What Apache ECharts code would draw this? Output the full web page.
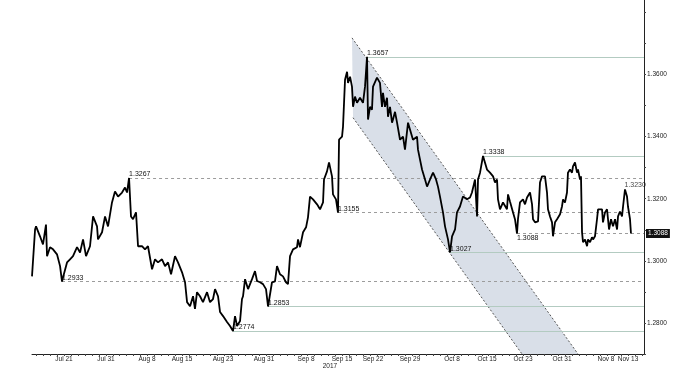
<!DOCTYPE html>
<html><head><meta charset="utf-8">
<script src="https://cdn.jsdelivr.net/npm/echarts@6/dist/echarts.min.js"></script>
<style>html,body{margin:0;padding:0;background:#fff}#c{width:680px;height:370px}</style>
</head><body><div id="c"></div>
<script>
// x unit = trading-day index (Jul 14 2017 = 0)
const priceDay = [
0.40,0.84,0.98,1.55,1.98,2.41,2.56,2.99,3.42,3.99,4.43,4.71,4.86,5.43,5.86,6.29,6.87,7.30,7.73,8.16,8.73,9.17,9.74,9.88,10.46,10.89,11.32,11.89,12.32,12.76,13.33,13.76,14.05,14.34,14.62,14.91,15.34,15.63,16.20,16.63,17.06,17.64,18.07,18.50,19.07,19.51,19.94,20.37,20.94,21.37,21.95,
22.38,22.67,23.10,23.53,23.81,24.10,24.53,24.96,25.54,25.97,26.40,26.69,27.12,27.41,27.84,28.41,28.84,29.27,29.56,29.85,30.28,30.56,30.71,31.00,31.43,32.00,32.43,32.72,33.15,33.58,34.01,34.30,34.87,35.30,35.59,36.02,36.45,36.88,37.17,37.46,37.89,38.46,38.61,38.89,39.33,39.76,40.04,40.33,40.76,41.34,41.77,42.20,42.34,42.77,43.06,43.49,43.63,44.06,44.35,
44.50,44.93,45.07,45.36,45.65,45.79,46.08,46.36,46.51,46.79,47.08,47.51,47.94,48.23,48.52,48.66,48.95,49.23,49.38,49.95,50.38,50.67,50.81,51.10,51.39,51.53,51.82,52.11,52.25,52.54,52.83,53.26,53.69,53.97,54.41,54.69,55.12,55.70,55.84,56.13,56.42,56.56,56.85,57.14,57.57,58.00,58.43,58.71,59.00,59.43,59.72,60.15,60.44,
60.73,61.16,61.44,61.87,62.30,62.88,63.31,63.59,64.03,64.32,64.46,64.75,65.18,65.75,66.18,66.62,66.90,67.19,67.33,67.62,68.05,68.62,68.77,69.05,69.49,69.77,70.06,70.20,70.49,70.92,71.21,71.50,71.93,72.22,72.36,72.65,73.08,73.36,73.65,74.08,74.37,74.51,74.80,75.09,75.23,75.52,75.81,76.24,76.52,76.67,76.95,77.24,77.38,77.67,77.96,78.10,78.39,78.68,78.82,79.11,79.25,79.40,79.54,79.83,80.12,80.26,80.55,80.83,80.98,81.26,81.55,81.70,81.98,82.27,82.41,82.70,82.99,83.28,83.56,83.85,84.14,84.43,84.57,84.85,85.14,85.29,85.57,85.86,86.00,86.29,86.43
];
const priceValue = [
1.2950,1.3101,1.3111,1.3079,1.3053,1.3117,1.3015,1.3044,1.3037,1.3021,1.2983,1.2933,1.2947,1.2995,1.3005,1.3015,1.3044,1.3027,1.3069,1.3015,1.3047,1.3143,1.3111,1.3069,1.3092,1.3143,1.3111,1.3188,1.3223,1.3207,1.3220,1.3236,1.3220,1.3267,1.3143,1.3134,1.3156,1.3047,1.3047,1.3037,1.3047,1.2973,1.3005,1.2995,1.3005,1.2983,1.2995,1.2957,1.3015,1.2995,1.2963,
1.2931,1.2867,1.2854,1.2886,1.2845,1.2899,1.2886,1.2867,1.2899,1.2867,1.2877,1.2909,1.2886,1.2835,1.2822,1.2803,1.2790,1.2774,1.2822,1.2790,1.2806,1.2877,1.2886,1.2941,1.2909,1.2941,1.2967,1.2935,1.2931,1.2925,1.2909,1.2853,1.2931,1.2934,1.2983,1.2957,1.2950,1.2931,1.2925,1.3015,1.3037,1.3044,1.3069,1.3044,1.3092,1.3108,1.3140,1.3207,1.3198,1.3182,1.3166,1.3188,1.3262,1.3288,1.3317,1.3272,1.3214,1.3198,1.3155,
1.3390,1.3400,1.3432,1.3583,1.3609,1.3573,1.3593,1.3561,1.3496,1.3529,1.3509,1.3525,1.3509,1.3561,1.3657,1.3455,1.3496,1.3487,1.3561,1.3590,1.3573,1.3496,1.3541,1.3496,1.3525,1.3464,1.3496,1.3445,1.3455,1.3480,1.3445,1.3390,1.3400,1.3358,1.3445,1.3423,1.3390,1.3400,1.3358,1.3326,1.3294,1.3284,1.3262,1.3239,1.3262,1.3284,1.3262,1.3239,1.3207,1.3156,1.3111,1.3069,1.3027,
1.3079,1.3101,1.3156,1.3175,1.3207,1.3198,1.3204,1.3220,1.3262,1.3143,1.3262,1.3284,1.3338,1.3294,1.3284,1.3272,1.3252,1.3262,1.3198,1.3166,1.3188,1.3166,1.3214,1.3191,1.3156,1.3134,1.3088,1.3134,1.3188,1.3198,1.3182,1.3204,1.3220,1.3182,1.3134,1.3124,1.3127,1.3252,1.3272,1.3272,1.3220,1.3166,1.3143,1.3124,1.3079,1.3124,1.3134,1.3150,1.3175,1.3198,1.3188,1.3220,1.3284,1.3294,1.3284,1.3304,1.3317,1.3284,1.3294,1.3262,1.3272,1.3092,1.3060,1.3069,1.3047,1.3069,1.3060,1.3076,1.3069,1.3079,1.3134,1.3166,1.3172,1.3166,1.3124,1.3156,1.3166,1.3101,1.3134,1.3111,1.3134,1.3101,1.3143,1.3159,1.3143,1.3175,1.3230,1.3207,1.3175,1.3134,1.3088
];
const levelValue    = [1.3657, 1.3338, 1.3267, 1.3155, 1.3088, 1.3027, 1.2933, 1.2853, 1.2774];
const levelStartDay = [48.52, 65.18, 14.34, 44.35, 70.06, 60.44, 4.71, 34.30, 29.27];
const levelDashed   = [false, false, true, true, true, false, true, false, false];
const levelLabelBelow = [false, false, false, false, true, false, false, false, false];
const peakDay = [85.57];
const peakValue = [1.3230];
const channelUpper = [[46.36, 1.3718], [78.82, 1.2700]];
const channelLower = [[46.51, 1.3461], [70.78, 1.2700]];
const xLabelDay  = [5.00, 11.03, 16.92, 21.95, 27.84, 33.72, 39.76, 44.93, 49.38, 54.69, 60.73, 65.75, 70.92, 76.52, 82.84, 86.00];
const xLabelText = ['Jul 21','Jul 31','Aug 8','Aug 15','Aug 23','Aug 31','Sep 8','Sep 15','Sep 22','Sep 29','Oct 8','Oct 15','Oct 23','Oct 31','Nov 8','Nov 13'];
const yearLabel = '2017';
const yLabelValues = [1.28, 1.30, 1.32, 1.34, 1.36];
const yTickValues = [1.27, 1.28, 1.29, 1.30, 1.31, 1.32, 1.33, 1.34, 1.35, 1.36, 1.37, 1.38];

const X_MIN = 0.4, X_MAX = 88.3, Y_MIN = 1.27, Y_MAX = 1.384;
const FONT = 'Liberation Sans';
const xTicks = [];
for (let d = 1; d <= 88; d++) xTicks.push(d);

const priceData = priceDay.map((d, i) => [d, priceValue[i]]);
const lastPrice = priceValue[priceValue.length - 1];

const markLineData = levelValue.map((v, i) => [
  { coord: [levelStartDay[i], v],
    lineStyle: levelDashed[i] ? { color: '#9c9c9c', type: [3, 3], width: 1 } : { color: '#b3cbc1', type: 'solid', width: 1 },
    label: { show: true, formatter: v.toFixed(4), position: levelLabelBelow[i] ? 'insideStartBottom' : 'insideStartTop',
             distance: levelLabelBelow[i] ? [0, 1] : [0, 0] } },
  { coord: [X_MAX, v] }
]);

const chart = echarts.init(document.getElementById('c'), null, { renderer: 'canvas' });
chart.setOption({
  animation: false,
  backgroundColor: '#fff',
  textStyle: { fontFamily: FONT },
  grid: { left: 32, right: 36, top: 0, bottom: 15, containLabel: false },
  xAxis: {
    type: 'value', min: X_MIN, max: X_MAX, position: 'bottom',
    splitLine: { show: false },
    axisLine: { show: true, lineStyle: { color: '#222', width: 1 } },
    axisTick: { show: true, customValues: xTicks, length: 2, lineStyle: { color: '#444' } },
    axisLabel: {
      show: true, customValues: xLabelDay, fontSize: 6.5, color: '#222', margin: 2, fontFamily: FONT,
      formatter: v => {
        const i = xLabelDay.findIndex(d => Math.abs(d - v) < 1e-6);
        if (i < 0) return '';
        return i === 7 ? '{a|' + xLabelText[i] + '}\n{y|' + yearLabel + '}' : xLabelText[i];
      },
      rich: { a: { fontSize: 6.5, color: '#222', fontFamily: FONT, align: 'center', padding: [0, 9, 0, 9] },
              y: { fontSize: 6.5, color: '#222', fontFamily: FONT, align: 'left' } }
    }
  },
  yAxis: [{
    type: 'value', min: Y_MIN, max: Y_MAX, position: 'right',
    splitLine: { show: false },
    axisLine: { show: true, lineStyle: { color: '#222', width: 1 } },
    axisTick: { show: true, customValues: yTickValues, length: 2, lineStyle: { color: '#444' } },
    axisLabel: { show: true, customValues: yLabelValues, formatter: v => v.toFixed(4), fontSize: 6.5, color: '#222', margin: 3, fontFamily: FONT }
  }, {
    type: 'value', min: Y_MIN, max: Y_MAX, position: 'right',
    splitLine: { show: false }, axisLine: { show: false }, axisTick: { show: false },
    axisLabel: { show: true, customValues: [lastPrice], formatter: v => v.toFixed(4), fontSize: 6.5, color: '#fff',
                 backgroundColor: '#111', padding: [1, 2, 1, 2], margin: 2, fontFamily: FONT }
  }],
  series: [
    {
      type: 'custom', coordinateSystem: 'cartesian2d', silent: true, z: 1,
      data: [[channelUpper[0][0], channelUpper[0][1]]],
      renderItem: (params, api) => {
        const u = channelUpper.map(c => api.coord(c));
        const l = channelLower.map(c => api.coord(c));
        return { type: 'group', children: [
          { type: 'polygon', shape: { points: [u[0], u[1], l[1], l[0]] }, style: { fill: '#d9dfe8' } },
          { type: 'line', shape: { x1: u[0][0], y1: u[0][1], x2: u[1][0], y2: u[1][1] }, style: { stroke: '#555', lineWidth: 1, lineDash: [2, 2] } },
          { type: 'line', shape: { x1: l[0][0], y1: l[0][1], x2: l[1][0], y2: l[1][1] }, style: { stroke: '#555', lineWidth: 1, lineDash: [2, 2] } }
        ] };
      }
    },
    {
      type: 'line', data: priceData, showSymbol: false, symbol: 'none', z: 3,
      lineStyle: { color: '#000', width: 1.8 },
      markLine: {
        silent: true, symbol: ['none', 'none'], z: 2,
        label: { fontSize: 7, color: '#111', fontFamily: FONT },
        data: markLineData
      }
    },
    {
      type: 'scatter', data: peakDay.map((d, i) => [d, peakValue[i]]), symbolSize: 1, z: 4,
      itemStyle: { color: 'rgba(0,0,0,0)' }, silent: true,
      label: { show: true, position: [0, -7], formatter: p => p.value[1].toFixed(4), fontSize: 7, color: '#111', fontFamily: FONT }
    }
  ]
});
</script></body></html>
